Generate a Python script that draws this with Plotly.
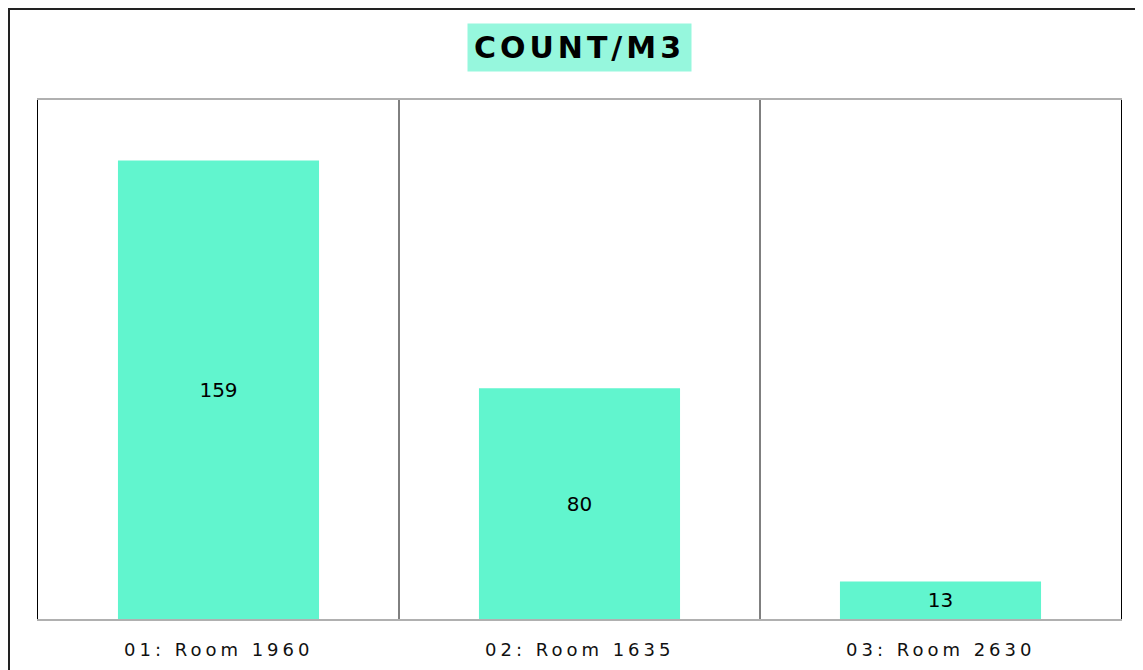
import plotly.graph_objects as go

categories = ["01: Room 1960", "02: Room 1635", "03: Room 2630"]
values = [159, 80, 13]
title_text = "COUNT/M3"

BAR_COLOR = "rgb(97,245,206)"
TITLE_BG = "rgb(150,247,221)"

W, H = 1143, 670
ML, MR, MT, MB = 30, 30, 92, 59
PW, PH = W - ML - MR, H - MT - MB

fig = go.Figure(
    go.Bar(
        x=categories,
        y=values,
        marker=dict(color=BAR_COLOR, line=dict(width=0)),
        text=[str(v) for v in values],
        textposition="inside",
        insidetextanchor="middle",
        textangle=0,
        textfont=dict(family="DejaVu Sans", size=20, color="black"),
        hoverinfo="skip",
    )
)

shapes = []
for i in range(1, len(categories)):
    shapes.append(dict(type="line", xref="x", yref="paper", x0=i - 0.5, x1=i - 0.5,
                       y0=0, y1=1, line=dict(color="black", width=1)))
shapes.append(dict(type="rect", xref="paper", yref="paper",
                   x0=(-ML + 1) / PW, x1=(PW + MR - 1) / PW,
                   y0=(-MB + 1) / PH, y1=(PH + MT - 1) / PH,
                   line=dict(color="#222", width=2), fillcolor="rgba(0,0,0,0)", layer="above"))

annotations = [dict(text="<b>" + title_text + "</b>", xref="paper", yref="paper",
                    x=0.5, y=1 + (MT - 40) / PH, xanchor="center", yanchor="middle",
                    showarrow=False, bgcolor=TITLE_BG, borderpad=4, width=215, height=39,
                    font=dict(family="DejaVu Sans", size=30, color="black"))]
for c in categories:
    annotations.append(dict(text="<span>" + c + "</span>", xref="x", yref="paper", x=c, y=-30 / PH,
                            xanchor="center", yanchor="middle", showarrow=False,
                            font=dict(family="DejaVu Sans", size=18, color="#111")))

fig.update_layout(
    width=W, height=H,
    margin=dict(l=ML, r=MR, t=MT, b=MB, pad=0),
    paper_bgcolor="white", plot_bgcolor="white",
    bargap=0.443,
    showlegend=False,
    shapes=shapes,
    font=dict(family="DejaVu Sans", color="black"),
    xaxis=dict(showline=True, linecolor="#b0b0b0", linewidth=2, mirror=True,
               ticks="", showgrid=False, zeroline=False, showticklabels=False),
    yaxis=dict(range=[0, 180], showline=True, linecolor="black", linewidth=1, mirror=True,
               showgrid=False, zeroline=False, showticklabels=False, ticks=""),
    annotations=annotations,
)

post = """
var st = document.createElement('style');
st.textContent = 'body{overflow:hidden;} .annotation-text, .annotation-text tspan{letter-spacing:4px;}';
document.head.appendChild(st);
"""
fig.write_html("out.html", post_script=post)
